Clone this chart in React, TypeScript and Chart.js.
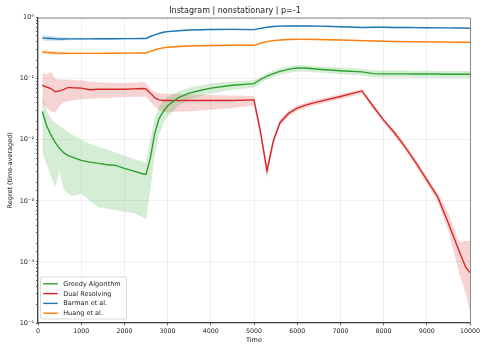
import React, { useEffect, useRef } from "react";
import { Chart, registerables } from "chart.js";

Chart.register(...registerables);

const TITLE = "Instagram | nonstationary | p=-1";
const X_LABEL = "Time";
const Y_LABEL = "Regret (time-averaged)";
const SERIES_NAMES = ["Greedy Algorithm", "Dual Resolving", "Barman et al.", "Huang et al."];
const SERIES_COLORS = ["#2ca02c", "#d62728", "#1f77b4", "#ff7f0e"];
const BAND_COLORS = ["rgba(44,160,44,0.2)", "rgba(214,39,40,0.2)", "rgba(31,119,180,0.2)", "rgba(255,127,14,0.2)"];

const TIMES = [100, 200, 300, 400, 500, 600, 700, 800, 1000, 1200, 1400, 1600, 1800, 2000, 2200, 2400, 2500, 2600, 2700, 2800, 2900, 3000, 3250, 3500, 3750, 4000, 4500, 5000, 5150, 5300, 5450, 5600, 5800, 6000, 6250, 6500, 7000, 7500, 7750, 8000, 8250, 8500, 8750, 9000, 9250, 9500, 9750, 9900, 10000];

const GREEDY_MEAN = [0.029, 0.017, 0.012, 0.009, 0.0072, 0.0061, 0.0055, 0.0052, 0.0046, 0.0043, 0.0041, 0.0039, 0.0038, 0.0034, 0.0031, 0.0028, 0.0027, 0.005, 0.0125, 0.022, 0.029, 0.036, 0.049, 0.058, 0.064, 0.07, 0.078, 0.083, 0.097, 0.11, 0.121, 0.132, 0.142, 0.15, 0.148, 0.143, 0.135, 0.129, 0.121, 0.12, 0.12, 0.12, 0.119, 0.119, 0.119, 0.118, 0.118, 0.118, 0.118];
const GREEDY_HI = [0.05, 0.03, 0.022, 0.019, 0.017, 0.015, 0.0135, 0.012, 0.01, 0.0086, 0.0077, 0.0069, 0.0061, 0.0055, 0.0049, 0.0044, 0.0042, 0.01, 0.022, 0.035, 0.043, 0.05, 0.062, 0.071, 0.077, 0.083, 0.09, 0.094, 0.108, 0.123, 0.136, 0.148, 0.16, 0.167, 0.165, 0.16, 0.152, 0.145, 0.137, 0.136, 0.136, 0.136, 0.135, 0.135, 0.134, 0.134, 0.133, 0.133, 0.133];
const GREEDY_LO = [0.006, 0.004, 0.0025, 0.0017, 0.003, 0.0015, 0.0013, 0.0012, 0.0013, 0.001, 0.00078, 0.00075, 0.0007, 0.00066, 0.00064, 0.00055, 0.0005, 0.0015, 0.0055, 0.012, 0.018, 0.024, 0.036, 0.045, 0.051, 0.057, 0.066, 0.072, 0.085, 0.097, 0.107, 0.116, 0.124, 0.131, 0.13, 0.126, 0.118, 0.113, 0.106, 0.105, 0.105, 0.105, 0.104, 0.104, 0.104, 0.103, 0.103, 0.103, 0.103];

const DUAL_MEAN = [0.078, 0.073, 0.069, 0.061, 0.063, 0.067, 0.072, 0.071, 0.07, 0.066, 0.067, 0.067, 0.067, 0.067, 0.068, 0.069, 0.068, 0.058, 0.049, 0.045, 0.044, 0.044, 0.044, 0.044, 0.044, 0.044, 0.044, 0.045, 0.0135, 0.0031, 0.0097, 0.019, 0.027, 0.033, 0.038, 0.042, 0.051, 0.063, 0.036, 0.021, 0.013, 0.0076, 0.0042, 0.0022, 0.00117, 0.00043, 0.00015, 0.000082, 0.000067];
const DUAL_HI = [0.125, 0.117, 0.13, 0.1, 0.097, 0.097, 0.096, 0.095, 0.093, 0.089, 0.087, 0.086, 0.085, 0.085, 0.086, 0.088, 0.085, 0.068, 0.06, 0.058, 0.057, 0.056, 0.056, 0.055, 0.055, 0.054, 0.053, 0.052, 0.016, 0.0038, 0.011, 0.021, 0.03, 0.036, 0.042, 0.046, 0.056, 0.068, 0.039, 0.023, 0.0145, 0.0086, 0.0047, 0.0025, 0.00135, 0.00062, 0.00021, 0.00022, 0.00022];
const DUAL_LO = [0.04, 0.033, 0.029, 0.028, 0.036, 0.041, 0.043, 0.044, 0.046, 0.047, 0.048, 0.048, 0.049, 0.05, 0.05, 0.051, 0.05, 0.042, 0.035, 0.031, 0.029, 0.028, 0.029, 0.029, 0.03, 0.031, 0.033, 0.036, 0.011, 0.0023, 0.0082, 0.017, 0.024, 0.03, 0.034, 0.038, 0.046, 0.057, 0.032, 0.019, 0.0115, 0.0068, 0.0037, 0.0019, 0.00098, 0.00032, 0.000065, 0.000031, 0.000015];

const BARMAN_MEAN = [0.465, 0.46, 0.455, 0.45, 0.447, 0.447, 0.448, 0.448, 0.449, 0.449, 0.45, 0.45, 0.451, 0.452, 0.453, 0.455, 0.455, 0.49, 0.52, 0.55, 0.575, 0.59, 0.61, 0.625, 0.633, 0.638, 0.642, 0.636, 0.665, 0.695, 0.715, 0.725, 0.73, 0.733, 0.73, 0.725, 0.71, 0.69, 0.695, 0.695, 0.69, 0.688, 0.685, 0.683, 0.68, 0.678, 0.675, 0.672, 0.67];
const BARMAN_HI = [0.52, 0.51, 0.5, 0.49, 0.48, 0.475, 0.472, 0.47, 0.468, 0.466, 0.466, 0.465, 0.466, 0.467, 0.468, 0.469, 0.469, 0.505, 0.536, 0.567, 0.592, 0.608, 0.628, 0.644, 0.652, 0.657, 0.661, 0.655, 0.685, 0.716, 0.736, 0.747, 0.752, 0.755, 0.752, 0.747, 0.731, 0.711, 0.716, 0.716, 0.711, 0.709, 0.706, 0.703, 0.7, 0.698, 0.695, 0.692, 0.69];
const BARMAN_LO = [0.42, 0.415, 0.413, 0.413, 0.415, 0.42, 0.425, 0.427, 0.43, 0.432, 0.434, 0.435, 0.436, 0.437, 0.438, 0.441, 0.441, 0.475, 0.505, 0.534, 0.558, 0.573, 0.592, 0.607, 0.615, 0.619, 0.623, 0.617, 0.646, 0.675, 0.694, 0.704, 0.709, 0.712, 0.709, 0.704, 0.689, 0.67, 0.675, 0.675, 0.67, 0.668, 0.665, 0.663, 0.66, 0.658, 0.655, 0.652, 0.65];

const HUANG_MEAN = [0.274, 0.27, 0.266, 0.263, 0.262, 0.261, 0.26, 0.26, 0.26, 0.26, 0.26, 0.261, 0.261, 0.262, 0.262, 0.263, 0.263, 0.28, 0.295, 0.31, 0.32, 0.327, 0.336, 0.342, 0.346, 0.349, 0.352, 0.352, 0.38, 0.405, 0.42, 0.43, 0.437, 0.44, 0.44, 0.437, 0.43, 0.42, 0.415, 0.41, 0.407, 0.405, 0.403, 0.401, 0.399, 0.397, 0.395, 0.394, 0.394];
const HUANG_HI = [0.3, 0.293, 0.285, 0.28, 0.277, 0.275, 0.273, 0.272, 0.27, 0.269, 0.269, 0.269, 0.269, 0.27, 0.27, 0.271, 0.271, 0.289, 0.304, 0.319, 0.33, 0.337, 0.346, 0.352, 0.356, 0.359, 0.362, 0.362, 0.391, 0.417, 0.432, 0.443, 0.45, 0.453, 0.453, 0.45, 0.443, 0.432, 0.427, 0.422, 0.419, 0.417, 0.415, 0.413, 0.411, 0.409, 0.407, 0.406, 0.406];
const HUANG_LO = [0.25, 0.248, 0.248, 0.247, 0.247, 0.247, 0.247, 0.248, 0.25, 0.251, 0.251, 0.253, 0.253, 0.254, 0.254, 0.255, 0.255, 0.271, 0.286, 0.301, 0.31, 0.317, 0.326, 0.332, 0.336, 0.339, 0.342, 0.342, 0.369, 0.393, 0.408, 0.417, 0.424, 0.427, 0.427, 0.424, 0.417, 0.408, 0.403, 0.398, 0.395, 0.393, 0.391, 0.389, 0.387, 0.385, 0.383, 0.382, 0.382];

const X_TICKS = [0, 1000, 2000, 3000, 4000, 5000, 6000, 7000, 8000, 9000, 10000];
const Y_DECADE_LABELS: Record<string, string> = {
  "0": "10⁰",
  "-1": "10⁻¹",
  "-2": "10⁻²",
  "-3": "10⁻³",
  "-4": "10⁻⁴",
  "-5": "10⁻⁵",
};

const MEANS = [GREEDY_MEAN, DUAL_MEAN, BARMAN_MEAN, HUANG_MEAN];
const HIS = [GREEDY_HI, DUAL_HI, BARMAN_HI, HUANG_HI];
const LOS = [GREEDY_LO, DUAL_LO, BARMAN_LO, HUANG_LO];

const FONT = "DejaVu Sans";

const toPoints = (arr: number[]) => TIMES.map((t, i) => ({ x: t, y: arr[i] }));

const isDecade = (v: number) => Math.abs(Math.log10(v) - Math.round(Math.log10(v))) < 1e-6;

const framePlugin = {
  id: "frame",
  afterDraw(chart: any) {
    const { ctx, chartArea } = chart;
    ctx.save();
    // top and right spines
    ctx.strokeStyle = "#8a8a8a";
    ctx.lineWidth = 1;
    ctx.beginPath();
    ctx.moveTo(chartArea.left, chartArea.top + 0.5);
    ctx.lineTo(chartArea.right + 0.5, chartArea.top + 0.5);
    ctx.lineTo(chartArea.right + 0.5, chartArea.bottom);
    ctx.stroke();

    // legend box (inside the axes, lower left)
    const x0 = chartArea.left + 2.5;
    const w = 86;
    const h = 42;
    const y0 = chartArea.bottom - 4 - h;
    ctx.fillStyle = "rgba(255,255,255,0.8)";
    ctx.strokeStyle = "#d0d0d0";
    ctx.lineWidth = 0.8;
    ctx.beginPath();
    const r = 2;
    ctx.moveTo(x0 + r, y0);
    ctx.lineTo(x0 + w - r, y0);
    ctx.quadraticCurveTo(x0 + w, y0, x0 + w, y0 + r);
    ctx.lineTo(x0 + w, y0 + h - r);
    ctx.quadraticCurveTo(x0 + w, y0 + h, x0 + w - r, y0 + h);
    ctx.lineTo(x0 + r, y0 + h);
    ctx.quadraticCurveTo(x0, y0 + h, x0, y0 + h - r);
    ctx.lineTo(x0, y0 + r);
    ctx.quadraticCurveTo(x0, y0, x0 + r, y0);
    ctx.closePath();
    ctx.fill();
    ctx.stroke();
    ctx.font = `6.5px "${FONT}"`;
    ctx.textBaseline = "middle";
    ctx.textAlign = "left";
    SERIES_NAMES.forEach((name, i) => {
      const yy = y0 + 6.8 + i * 9.8;
      ctx.strokeStyle = SERIES_COLORS[i];
      ctx.lineWidth = 1.4;
      ctx.beginPath();
      ctx.moveTo(x0 + 2.7, yy);
      ctx.lineTo(x0 + 17.3, yy);
      ctx.stroke();
      ctx.fillStyle = "#222";
      ctx.fillText(name, x0 + 22.7, yy + 0.3);
    });
    ctx.restore();
  },
};

export default function App() {
  const canvasRef = useRef<HTMLCanvasElement | null>(null);

  useEffect(() => {
    const canvas = canvasRef.current;
    if (!canvas) return;
    Chart.defaults.font.family = FONT;

    const lineSets = MEANS.map((m, i) => ({
      label: SERIES_NAMES[i],
      data: toPoints(m),
      borderColor: SERIES_COLORS[i],
      backgroundColor: SERIES_COLORS[i],
      borderWidth: 1.4,
      pointRadius: 0,
      tension: 0,
      fill: false,
      order: 0,
    }));

    const bandSets: any[] = [];
    MEANS.forEach((_, i) => {
      bandSets.push({
        label: SERIES_NAMES[i] + " upper",
        data: toPoints(HIS[i]),
        borderColor: "transparent",
        backgroundColor: "transparent",
        borderWidth: 0,
        pointRadius: 0,
        tension: 0,
        fill: false,
        order: 1,
      });
      bandSets.push({
        label: SERIES_NAMES[i] + " lower",
        data: toPoints(LOS[i]),
        borderColor: "transparent",
        backgroundColor: BAND_COLORS[i],
        borderWidth: 0,
        pointRadius: 0,
        tension: 0,
        fill: "-1",
        order: 1,
      });
    });

    const chart = new Chart(canvas, {
      type: "line",
      data: { datasets: [...lineSets, ...bandSets] as any },
      plugins: [framePlugin],
      options: {
        responsive: false,
        animation: false,
        devicePixelRatio: 1,
        layout: { padding: { left: 0, right: 18, top: 0, bottom: 0 } },
        plugins: {
          legend: { display: false },
          tooltip: { enabled: false },
          title: {
            display: true,
            text: TITLE,
            color: "#222",
            font: { family: FONT, size: 8, weight: "normal" },
            padding: { top: 6, bottom: 2 },
          },
        },
        scales: {
          x: {
            type: "linear",
            min: 0,
            max: 10000,
            afterBuildTicks: (axis: any) => {
              axis.ticks = X_TICKS.map((v) => ({ value: v }));
            },
            afterFit: (axis: any) => {
              axis.height = 29;
            },
            ticks: {
              autoSkip: false,
              maxRotation: 0,
              color: "#222",
              padding: 2,
              font: { family: FONT, size: 6.3 },
              callback: (value: any) => String(value),
            },
            grid: {
              color: "rgba(0,0,0,0.08)",
              lineWidth: 0.8,
              tickColor: "#444",
              tickLength: 2.5,
            },
            border: { color: "#444", width: 1.3 },
            title: {
              display: true,
              text: X_LABEL,
              color: "#222",
              font: { family: FONT, size: 6.5 },
              padding: { top: 0, bottom: 8 },
            },
          },
          y: {
            type: "logarithmic",
            min: 1e-5,
            max: 1,
            afterFit: (axis: any) => {
              axis.width = 38;
            },
            ticks: {
              autoSkip: false,
              color: "#222",
              padding: 2,
              font: { family: FONT, size: 6.5 },
              callback: (value: any) => {
                const v = Number(value);
                if (!isDecade(v)) return "";
                return Y_DECADE_LABELS[String(Math.round(Math.log10(v)))] ?? "";
              },
            },
            grid: {
              color: (ctx: any) => (ctx.tick && isDecade(ctx.tick.value) ? "rgba(0,0,0,0.08)" : "rgba(0,0,0,0)"),
              lineWidth: 0.8,
              tickColor: "#444",
              tickLength: 2,
            },
            border: { color: "#444", width: 1.3 },
            title: {
              display: true,
              text: Y_LABEL,
              color: "#222",
              font: { family: FONT, size: 6.5 },
              padding: { top: 6.6, bottom: 0 },
            },
          },
        },
      } as any,
    });

    return () => {
      chart.destroy();
    };
  }, []);

  return (
    <div style={{ position: "fixed", left: 0, top: 0, width: 488, height: 352, background: "#fff" }}>
      <canvas ref={canvasRef} width={488} height={352} style={{ display: "block", width: 488, height: 352 }} />
    </div>
  );
}
